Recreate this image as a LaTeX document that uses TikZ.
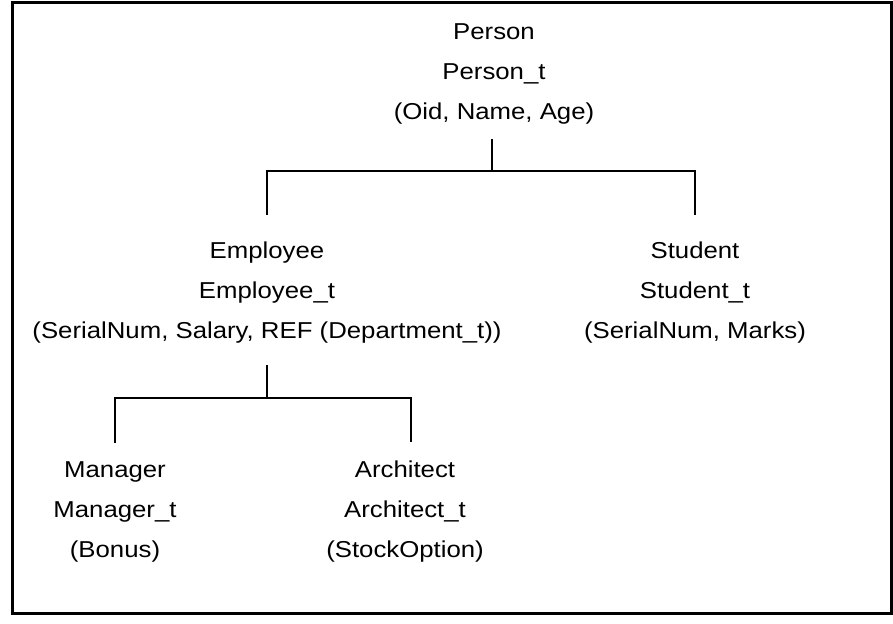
\documentclass[tikz,border=0pt]{standalone}
\usepackage{fontspec}
\setmainfont[FakeStretch=1.12]{Liberation Sans}
\begin{document}
\begin{tikzpicture}[x=1pt,y=-1pt,
  cls/.style={align=center,inner sep=0pt,
    font={\fontsize{23}{40}\selectfont}},
  link/.style={line width=2pt,line join=miter}]
\useasboundingbox (0,0) rectangle (893,623);
% outer frame
\draw[line width=3pt] (12,3) rectangle (891,613);

% type hierarchy
\node[cls] (person)    at (494,74)  {Person\\Person\_t\\(Oid, Name, Age)};
\node[cls] (employee)  at (267,293) {Employee\\Employee\_t\\(SerialNum, Salary, REF (Department\_t))};
\node[cls] (student)   at (695,293) {Student\\Student\_t\\(SerialNum, Marks)};
\node[cls] (manager)   at (115,512) {Manager\\Manager\_t\\(Bonus)};
\node[cls] (architect) at (405,512) {Architect\\Architect\_t\\(StockOption)};

% Person -> Employee, Student
\draw[link] ([xshift=-2pt,yshift=-15pt]person.south) -- ++(0,32) coordinate (pbar);
\draw[link] (pbar) -| ([yshift=27pt]employee.north);
\draw[link] (pbar) -| ([yshift=27pt]student.north);

% Employee -> Manager, Architect
\draw[link] ([yshift=-21pt]employee.south) -- ++(0,33) coordinate (ebar);
\draw[link] (ebar) -| ([yshift=19pt]manager.north);
\draw[link] (ebar) -| ([xshift=6pt,yshift=19pt]architect.north);
\end{tikzpicture}
\end{document}
